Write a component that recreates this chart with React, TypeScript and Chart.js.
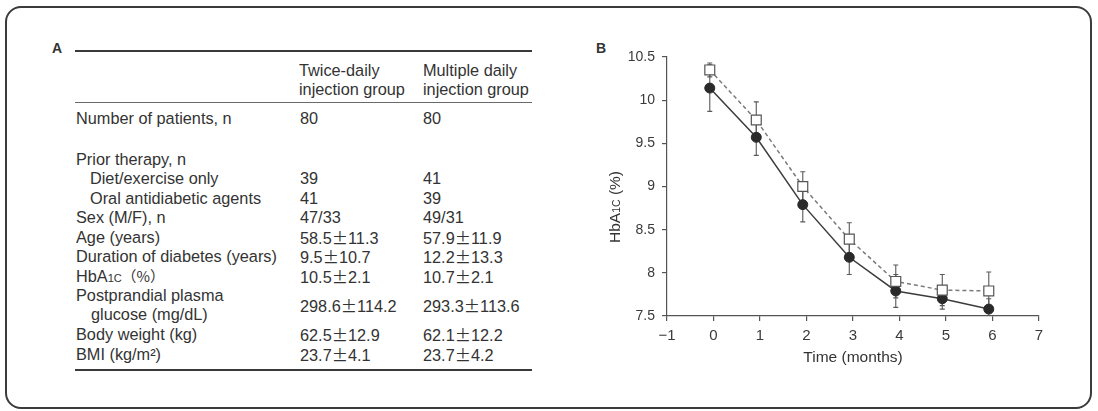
import React, { useEffect, useRef } from "react";
import { Chart, registerables } from "chart.js";

Chart.register(...registerables);

// ---------- Panel B data ----------
const months = [0, 1, 2, 3, 4, 5, 6];
const circleMeans = [10.14, 9.57, 8.79, 8.18, 7.79, 7.7, 7.58];
const circleSD = [0.27, 0.21, 0.2, 0.2, 0.19, 0.12, 0.12];
const squareMeans = [10.35, 9.77, 9.0, 8.39, 7.9, 7.8, 7.79];
const squareSD = [0.08, 0.21, 0.17, 0.19, 0.19, 0.18, 0.22];
const xTickValues = [-1, 0, 1, 2, 3, 4, 5, 6, 7];
const xTickLabels = ["−1", "0", "1", "2", "3", "4", "5", "6", "7"];
const yTickLabels = ["7.5", "8", "8.5", "9", "9.5", "10", "10.5"];

// ---------- Panel A data ----------
const headerTwice = ["Twice-daily", "injection group"];
const headerMultiple = ["Multiple daily", "injection group"];
const rowLabels = [
  "Number of patients, n",
  "Prior therapy, n",
  "Diet/exercise only",
  "Oral antidiabetic agents",
  "Sex (M/F), n",
  "Age (years)",
  "Duration of diabetes (years)",
  "HbA1c（%）",
  "Postprandial plasma|glucose (mg/dL)",
  "Body weight (kg)",
  "BMI (kg/m²)",
];
const twiceDaily = ["80", "", "39", "41", "47/33", "58.5±11.3", "9.5±10.7", "10.5±2.1", "298.6±114.2", "62.5±12.9", "23.7±4.1"];
const multipleDaily = ["80", "", "41", "39", "49/31", "57.9±11.9", "12.2±13.3", "10.7±2.1", "293.3±113.6", "62.1±12.2", "23.7±4.2"];

const FONT = "'Liberation Sans', Arial, Helvetica, sans-serif";
const CJK = "'Noto Sans CJK JP', 'Noto Sans CJK SC', sans-serif";
const TEXT = "#333333";
const MARKER_SHIFT = -0.08;

// row layout (center y in page px) – presentation only
const rowCenters = [118, 158.5, 178, 197.5, 217, 236.5, 256, 275.5, 304.5, 334, 353.5];
const indented = [false, false, true, true, false, false, false, false, false, false, false];

function renderLabel(label: string) {
  if (label.startsWith("HbA1c")) {
    return (
      <span>
        HbA<span style={{ fontSize: "0.68em" }}>1C</span>
        <span style={{ fontFamily: CJK, fontSize: "0.9em" }}>（%）</span>
      </span>
    );
  }
  return label;
}

function renderValue(v: string) {
  const idx = v.indexOf("±");
  if (idx < 0) return v;
  return (
    <span>
      {v.slice(0, idx)}
      <span style={{ fontFamily: CJK }}>±</span>
      {v.slice(idx + 1)}
    </span>
  );
}

const errorBarPlugin = {
  id: "errorBars",
  beforeDatasetsDraw(chart: any) {
    const { ctx, chartArea, scales } = chart;
    const y = scales.y;
    ctx.save();
    ctx.beginPath();
    ctx.rect(chartArea.left, chartArea.top, chartArea.right - chartArea.left, chartArea.bottom - chartArea.top);
    ctx.clip();
    ctx.strokeStyle = "#5a5a5a";
    ctx.lineWidth = 1.1;
    chart.data.datasets.forEach((ds: any, i: number) => {
      const meta = chart.getDatasetMeta(i);
      const sd: number[] = ds.sd;
      meta.data.forEach((pt: any, j: number) => {
        const v = ds.data[j].y;
        const yt = y.getPixelForValue(v + sd[j]);
        const yb = y.getPixelForValue(v - sd[j]);
        const px = pt.x;
        ctx.beginPath();
        ctx.moveTo(px, yt);
        ctx.lineTo(px, yb);
        ctx.moveTo(px - 2.5, yt);
        ctx.lineTo(px + 2.5, yt);
        ctx.moveTo(px - 2.5, yb);
        ctx.lineTo(px + 2.5, yb);
        ctx.stroke();
      });
    });
    ctx.restore();
  },
};

const yTitlePlugin = {
  id: "yTitle",
  afterDraw(chart: any) {
    const ctx = chart.ctx;
    const cx = 35;
    const cy = 177;
    const parts: [string, number][] = [
      ["HbA", 15.5],
      ["1C", 10.5],
      [" (%)", 15.5],
    ];
    ctx.save();
    ctx.translate(cx, cy);
    ctx.rotate(-Math.PI / 2);
    ctx.fillStyle = TEXT;
    ctx.textBaseline = "alphabetic";
    ctx.textAlign = "left";
    let total = 0;
    parts.forEach(([t, s]) => {
      ctx.font = `${s}px ${FONT}`;
      total += ctx.measureText(t).width;
    });
    let xPos = -total / 2;
    parts.forEach(([t, s]) => {
      ctx.font = `${s}px ${FONT}`;
      ctx.fillText(t, xPos, 5);
      xPos += ctx.measureText(t).width;
    });
    ctx.restore();
  },
};

function HbChart() {
  const ref = useRef<HTMLCanvasElement | null>(null);
  useEffect(() => {
    if (!ref.current) return;
    const chart = new Chart(ref.current, {
      type: "line",
      data: {
        datasets: [
          {
            label: "Open squares",
            data: months.map((m, i) => ({ x: m + MARKER_SHIFT, y: squareMeans[i] })),
            sd: squareSD,
            borderColor: "#7a7a7a",
            borderWidth: 1.5,
            borderDash: [4, 3],
            pointStyle: "rect",
            pointRadius: 7,
            pointBackgroundColor: "#ffffff",
            pointBorderColor: "#555555",
            pointBorderWidth: 1.2,
            tension: 0,
            fill: false,
          } as any,
          {
            label: "Filled circles",
            data: months.map((m, i) => ({ x: m + MARKER_SHIFT, y: circleMeans[i] })),
            sd: circleSD,
            borderColor: "#3c3c3c",
            borderWidth: 1.5,
            pointStyle: "circle",
            pointRadius: 5,
            pointBackgroundColor: "#2a2a2a",
            pointBorderColor: "#2a2a2a",
            pointBorderWidth: 1,
            tension: 0,
            fill: false,
          } as any,
        ],
      },
      options: {
        responsive: false,
        maintainAspectRatio: false,
        animation: false,
        devicePixelRatio: 1,
        layout: { padding: { top: 27, right: 21, bottom: 0, left: 0 } },
        plugins: {
          legend: { display: false },
          tooltip: { enabled: false },
          title: { display: false },
        },
        scales: {
          x: {
            type: "linear",
            min: -1,
            max: 7,
            afterBuildTicks: (s: any) => {
              s.ticks = xTickValues.map((v) => ({ value: v }));
            },
            afterFit: (s: any) => {
              s.height = 74;
            },
            ticks: {
              autoSkip: false,
              maxRotation: 0,
              padding: 6,
              color: "#3a3a3a",
              font: { family: FONT, size: 15 },
              callback: (_v: any, i: number) => xTickLabels[i],
            },
            grid: { drawOnChartArea: false, drawTicks: true, tickLength: 5, color: "#555", lineWidth: 1.2 },
            border: { color: "#555", width: 1.2 },
            title: {
              display: true,
              text: "Time (months)",
              color: TEXT,
              font: { family: FONT, size: 15.5 },
              padding: { top: 0, bottom: 23 },
            },
          },
          y: {
            type: "linear",
            min: 7.5,
            max: 10.5,
            afterBuildTicks: (s: any) => {
              s.ticks = yTickLabels.map((l) => ({ value: parseFloat(l) }));
            },
            afterFit: (s: any) => {
              s.width = 87;
            },
            ticks: {
              padding: 7,
              color: "#3a3a3a",
              font: { family: FONT, size: 14 },
              callback: (_v: any, i: number) => yTickLabels[i],
            },
            grid: { drawOnChartArea: false, drawTicks: true, tickLength: 5, color: "#555", lineWidth: 1.2 },
            border: { color: "#555", width: 1.2 },
          },
        },
      } as any,
      plugins: [errorBarPlugin, yTitlePlugin],
    });
    return () => chart.destroy();
  }, []);
  return (
    <canvas
      ref={ref}
      width={480}
      height={360}
      style={{ position: "absolute", left: 580, top: 30, width: 480, height: 360 }}
    />
  );
}

export default function App() {
  const textBase: React.CSSProperties = {
    position: "absolute",
    fontFamily: FONT,
    fontSize: 16.3,
    lineHeight: "20px",
    color: TEXT,
    whiteSpace: "nowrap",
  };
  return (
    <div
      style={{
        position: "absolute",
        left: 0,
        top: 0,
        width: 1098,
        height: 411,
        background: "#ffffff",
        overflow: "hidden",
      }}
    >
      <div
        style={{
          position: "absolute",
          left: 5,
          top: 6,
          width: 1087,
          height: 403,
          boxSizing: "border-box",
          border: "2px solid #3b3b3b",
          borderRadius: 16,
        }}
      />
      {/* Panel labels */}
      <div style={{ ...textBase, left: 52, top: 38, fontSize: 14, fontWeight: "bold" }}>A</div>
      <div style={{ ...textBase, left: 596, top: 38, fontSize: 14, fontWeight: "bold" }}>B</div>

      {/* Table rules */}
      <div style={{ position: "absolute", left: 75, top: 50, width: 457, height: 2, background: "#3a3a3a" }} />
      <div style={{ position: "absolute", left: 75, top: 102, width: 457, height: 1, background: "#6a6a6a" }} />
      <div style={{ position: "absolute", left: 75, top: 369, width: 457, height: 2, background: "#3a3a3a" }} />

      {/* Header */}
      {headerTwice.map((t, i) => (
        <div key={"ht" + i} style={{ ...textBase, left: 299, top: 60 + i * 19 }}>
          {t}
        </div>
      ))}
      {headerMultiple.map((t, i) => (
        <div key={"hm" + i} style={{ ...textBase, left: 423, top: 60 + i * 19 }}>
          {t}
        </div>
      ))}

      {/* Rows */}
      {rowLabels.map((label, i) => {
        const cy = rowCenters[i];
        const parts = label.split("|");
        return (
          <React.Fragment key={"r" + i}>
            {parts.length === 2 ? (
              <>
                <div style={{ ...textBase, left: 76, top: cy - 9.75 - 10 }}>{parts[0]}</div>
                <div style={{ ...textBase, left: 91, top: cy + 9.75 - 10 }}>{parts[1]}</div>
              </>
            ) : (
              <div style={{ ...textBase, left: indented[i] ? 90 : 76, top: cy - 10 }}>{renderLabel(label)}</div>
            )}
            {twiceDaily[i] !== "" && (
              <div style={{ ...textBase, left: 300, top: cy - 10 }}>{renderValue(twiceDaily[i])}</div>
            )}
            {multipleDaily[i] !== "" && (
              <div style={{ ...textBase, left: 423, top: cy - 10 }}>{renderValue(multipleDaily[i])}</div>
            )}
          </React.Fragment>
        );
      })}

      <HbChart />
    </div>
  );
}
